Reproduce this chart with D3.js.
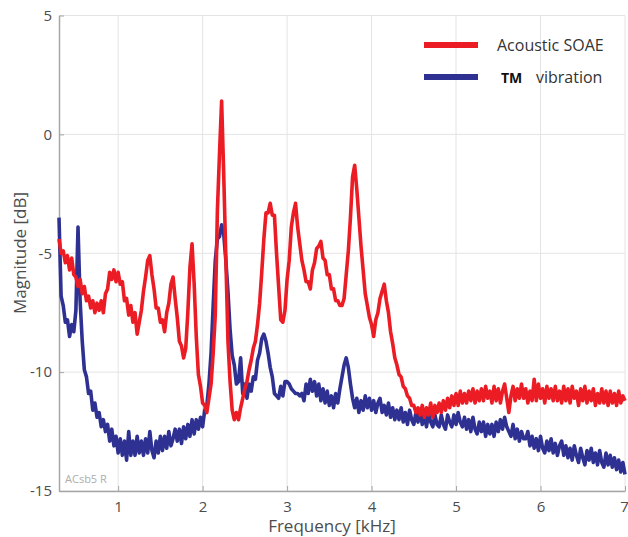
<!DOCTYPE html>
<html>
<head>
<meta charset="utf-8">
<script src="https://cdn.jsdelivr.net/npm/d3@7"></script>
<style>
  html, body { margin: 0; padding: 0; background: #ffffff; }
  svg { display: block; font-family: "Open Sans", "Noto Sans", sans-serif; }
</style>
</head>
<body>
<svg id="chart" width="628" height="537"></svg>
<script>
// Spectrum sampling grid (kHz)
const freqStart = 0.3;
const freqStep = 0.025;

// Acoustic SOAE magnitude (dB), one row per 0.5 kHz
const soae = [
  -4.4, -5.0, -4.9, -5.4, -5.1, -5.7, -5.2, -5.9, -6.0, -6.4, -6.1, -6.7, -6.4, -7.0, -6.8, -7.3, -7.0, -7.5, -7.1, -7.4,
  -7.0, -7.5, -6.7, -6.5, -5.8, -6.1, -5.7, -6.2, -5.8, -6.3, -6.2, -7.0, -6.9, -7.6, -7.2, -7.9, -7.5, -8.4, -7.9, -7.4,
  -6.6, -6.0, -5.3, -5.1, -5.9, -6.5, -7.3, -7.3, -7.9, -7.8, -8.3, -7.5, -7.1, -6.3, -6.0, -6.9, -7.7, -8.7, -8.9, -9.4,
  -9.0, -7.5, -5.6, -4.6, -6.3, -8.5, -10.1, -10.6, -11.3, -11.4, -11.7, -11.1, -10.5, -9.2, -7.6, -3.2, -0.8, 1.4, -1.7, -5.2,
  -8.7, -10.4, -11.6, -12.0, -11.7, -12.0, -11.5, -11.1, -10.7, -10.4, -9.9, -9.5, -9.0, -8.7, -8.0, -7.1, -5.8, -4.4, -3.3, -3.3,
  -2.9, -3.4, -3.4, -5.0, -6.4, -7.8, -7.9, -7.4, -6.1, -5.3, -3.9, -3.3, -2.9, -3.9, -4.6, -5.3, -5.7, -6.2, -6.2, -6.5,
  -5.7, -5.4, -4.8, -4.7, -4.5, -5.2, -5.3, -5.9, -5.9, -6.5, -6.5, -7.0, -7.0, -7.2, -7.2, -6.9, -5.9, -4.9, -3.5, -1.8,
  -1.3, -2.3, -3.5, -4.7, -5.7, -6.7, -7.2, -7.7, -8.0, -8.5, -7.8, -7.5, -6.9, -6.6, -6.3, -7.0, -7.5, -8.3, -8.8, -9.4,
  -9.7, -10.1, -10.2, -10.6, -10.7, -11.0, -11.1, -11.4, -11.4, -11.7, -11.5, -11.8, -11.4, -11.9, -11.5, -11.8, -11.3, -11.9, -11.4, -11.7,
  -11.3, -11.7, -11.2, -11.6, -11.1, -11.5, -11.0, -11.4, -10.9, -11.4, -10.8, -11.3, -10.9, -11.3, -10.8, -11.2, -10.7, -11.3, -10.8, -11.2,
  -10.7, -11.2, -10.6, -11.1, -10.8, -11.3, -10.6, -11.2, -10.7, -11.3, -10.8, -10.5, -11.1, -11.7, -11.0, -10.6, -11.2, -10.7, -11.1, -10.5,
  -11.1, -10.7, -11.3, -10.8, -11.2, -10.3, -11.2, -10.5, -11.1, -10.7, -11.3, -10.6, -11.1, -10.7, -11.2, -10.6, -11.2, -10.8, -11.3, -10.6,
  -11.2, -10.7, -11.3, -10.6, -11.1, -10.8, -11.4, -10.7, -11.2, -10.6, -11.3, -10.8, -11.2, -10.7, -11.4, -10.9, -11.3, -10.7, -11.3, -10.8,
  -11.4, -10.8, -11.3, -10.9, -11.4, -10.8, -11.3, -11.0, -11.2
];

// Tympanic membrane vibration magnitude (dB), one row per 0.5 kHz
const tmVibration = [
  -3.5, -6.8, -7.2, -7.9, -7.8, -8.5, -8.0, -8.3, -7.4, -3.9, -7.0, -8.7, -9.9, -10.2, -10.9, -10.8, -11.6, -11.3, -11.9, -11.7,
  -12.3, -12.0, -12.5, -12.2, -12.9, -12.4, -13.1, -12.7, -13.4, -12.8, -13.5, -12.9, -13.7, -12.5, -13.5, -12.9, -13.5, -12.7, -13.4, -12.9,
  -13.5, -12.8, -13.4, -12.5, -13.3, -13.6, -12.9, -13.4, -12.7, -13.3, -12.7, -13.2, -12.5, -13.1, -12.8, -12.4, -12.9, -12.4, -13.0, -12.3,
  -12.8, -12.2, -12.7, -12.0, -12.6, -12.0, -12.4, -11.9, -12.3, -11.6, -11.4, -10.5, -9.2, -7.2, -5.3, -4.4, -4.3, -3.8, -4.2, -5.3,
  -6.6, -8.2, -9.3, -9.7, -10.5, -10.4, -9.4, -10.9, -10.5, -11.1, -10.5, -10.8, -10.2, -10.3, -9.5, -9.2, -8.6, -8.4, -8.7, -9.2,
  -9.8, -10.2, -10.9, -11.0, -11.1, -10.6, -11.0, -10.4, -10.4, -10.5, -10.7, -10.8, -10.9, -10.9, -11.0, -10.9, -11.2, -10.5, -10.9, -10.3,
  -10.8, -10.4, -11.0, -10.5, -11.2, -10.7, -11.3, -10.8, -11.4, -11.0, -11.5, -10.9, -11.3, -10.7, -10.2, -9.7, -9.4, -9.8, -10.5, -11.1,
  -11.5, -11.1, -11.7, -11.2, -11.6, -11.0, -11.5, -11.1, -11.6, -11.2, -11.7, -11.3, -11.1, -11.7, -11.4, -11.8, -11.3, -11.9, -11.5, -12.0,
  -11.6, -12.0, -11.5, -12.1, -11.7, -12.2, -11.6, -12.0, -12.2, -11.7, -12.1, -11.6, -12.2, -11.8, -12.3, -11.7, -12.1, -12.3, -11.8, -12.2,
  -12.3, -11.8, -12.2, -12.4, -11.8, -12.1, -12.3, -11.8, -12.2, -11.7, -12.1, -12.3, -11.9, -12.4, -12.0, -12.5, -11.9, -12.4, -12.6, -12.1,
  -12.5, -12.1, -12.7, -12.2, -12.6, -12.2, -12.7, -12.1, -12.5, -12.0, -12.4, -11.9, -12.3, -12.5, -12.7, -12.2, -12.8, -12.4, -12.9, -12.5,
  -12.8, -12.8, -12.5, -13.1, -12.7, -13.2, -12.8, -13.3, -12.7, -13.2, -13.4, -12.9, -13.3, -12.8, -13.4, -13.0, -13.5, -13.1, -12.9, -13.5,
  -13.1, -13.6, -13.2, -13.7, -13.1, -13.5, -13.8, -13.2, -13.6, -13.9, -13.3, -13.7, -13.2, -13.8, -13.4, -13.9, -13.3, -13.8, -14.0, -13.4,
  -13.9, -13.5, -14.0, -13.6, -14.1, -13.7, -14.2, -13.8, -14.3
];

// Axis ticks
const xTicks = [1, 2, 3, 4, 5, 6, 7];
const yTicks = [-15, -10, -5, 0, 5];

// Legend entries
const seriesNames = ["Acoustic SOAE", "vibration"];
const seriesColors = ["#ec1c24", "#2e3192"];

const svg = d3.select("#chart");
const x = d3.scaleLinear().domain([0.3, 7]).range([59, 625]);
const y = d3.scaleLinear().domain([-15, 5]).range([491, 15.5]);

const gridColor = "#e4e4e4";
const axisColor = "#a6a6a6";
const textColor = "#4d4d4d";

// Grid
svg.append("g").selectAll("line").data(xTicks).join("line")
  .attr("x1", d => x(d)).attr("x2", d => x(d))
  .attr("y1", y(5)).attr("y2", y(-15))
  .attr("stroke", gridColor).attr("stroke-width", 1);
svg.append("g").selectAll("line").data(yTicks).join("line")
  .attr("x1", x(0.3)).attr("x2", x(7))
  .attr("y1", d => y(d)).attr("y2", d => y(d))
  .attr("stroke", gridColor).attr("stroke-width", 1);

// Axes with inward ticks
const xAxis = svg.append("g")
  .attr("transform", `translate(0,${y(-15)})`)
  .call(d3.axisBottom(x).tickValues(xTicks).tickSizeInner(-5).tickSizeOuter(0).tickPadding(10).tickFormat(d3.format("d")));
const yAxis = svg.append("g")
  .attr("transform", `translate(${x(0.3)},0)`)
  .call(d3.axisLeft(y).tickValues(yTicks).tickSizeInner(-5).tickSizeOuter(0).tickPadding(7).tickFormat(d3.format("d")));

[xAxis, yAxis].forEach(g => {
  g.select(".domain").attr("stroke", axisColor).attr("stroke-width", 1.5);
  g.selectAll(".tick line").attr("stroke", axisColor).attr("stroke-width", 1);
  g.selectAll(".tick text").attr("fill", textColor).attr("font-size", 15)
    .attr("font-family", "'Open Sans', sans-serif");
});
yAxis.selectAll(".tick text").text(d => d < 0 ? "-" + Math.abs(d) : d);
// keep the last frequency label inside the frame
xAxis.selectAll(".tick text").filter(d => d === 7).attr("dx", -1);

// Spectra
const line = d3.line()
  .x((d, i) => x(freqStart + i * freqStep))
  .y(d => y(d));

svg.append("path").datum(tmVibration)
  .attr("d", line).attr("fill", "none")
  .attr("stroke", seriesColors[1]).attr("stroke-width", 3.6)
  .attr("stroke-linejoin", "round");
svg.append("path").datum(soae)
  .attr("d", line).attr("fill", "none")
  .attr("stroke", seriesColors[0]).attr("stroke-width", 3.6)
  .attr("stroke-linejoin", "round");

// Axis titles
svg.append("text")
  .attr("x", 332).attr("y", 532)
  .attr("text-anchor", "middle").attr("font-size", 17).attr("fill", textColor)
  .text("Frequency [kHz]");
svg.append("text")
  .attr("transform", "translate(26,253) rotate(-90)")
  .attr("text-anchor", "middle").attr("font-size", 17).attr("fill", textColor)
  .text("Magnitude [dB]");

// Specimen tag
svg.append("text")
  .attr("x", 65).attr("y", 483)
  .attr("font-size", 11).attr("fill", "#adadad")
  .text("ACsb5 R");

// Legend
const legend = svg.append("g");
[45, 77].forEach((ly, i) => {
  legend.append("line")
    .attr("x1", 424).attr("x2", 478).attr("y1", ly).attr("y2", ly)
    .attr("stroke", seriesColors[i]).attr("stroke-width", 6);
});
legend.append("text")
  .attr("x", 497).attr("y", 51)
  .attr("font-size", 16).attr("fill", "#333333")
  .text(seriesNames[0]);
legend.append("text")
  .attr("x", 501).attr("y", 83)
  .attr("font-size", 14).attr("font-weight", "bold").attr("fill", "#111111")
  .text("TM");
legend.append("text")
  .attr("x", 536).attr("y", 83)
  .attr("font-size", 16).attr("fill", "#333333")
  .text(seriesNames[1]);
</script>
</body>
</html>
